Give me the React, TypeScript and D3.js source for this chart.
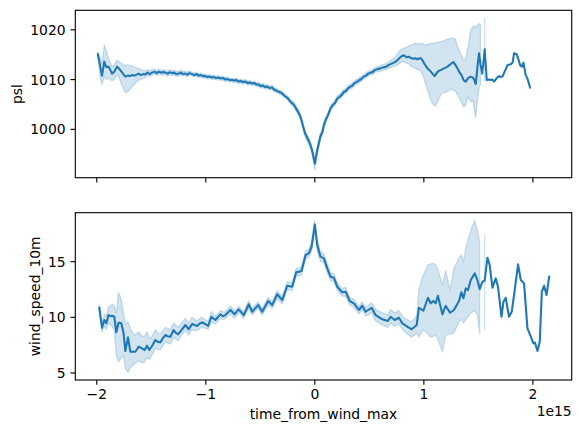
import React from "react";
import * as d3 from "d3";

// ---- data (x in units of 1e15) ----
const pslX = [-1.99,-1.97,-1.952,-1.931,-1.913,-1.892,-1.875,-1.86,-1.839,-1.815,
-1.795,-1.784,-1.76,-1.738,-1.715,-1.695,-1.677,-1.655,-1.635,-1.616,
-1.595,-1.575,-1.555,-1.535,-1.515,-1.493,-1.47,-1.45,-1.43,-1.41,
-1.39,-1.371,-1.35,-1.33,-1.31,-1.29,-1.27,-1.249,-1.23,-1.21,
-1.19,-1.17,-1.15,-1.126,-1.105,-1.085,-1.065,-1.045,-1.025,-1.004,
-0.985,-0.965,-0.945,-0.925,-0.905,-0.882,-0.86,-0.84,-0.82,-0.8,
-0.78,-0.759,-0.74,-0.72,-0.7,-0.68,-0.66,-0.636,-0.615,-0.595,
-0.575,-0.555,-0.535,-0.514,-0.495,-0.475,-0.455,-0.435,-0.415,-0.391,
-0.37,-0.35,-0.33,-0.31,-0.29,-0.27,-0.25,-0.23,-0.21,-0.19,
-0.17,-0.15,-0.13,-0.11,-0.09,-0.07,-0.05,-0.035,-0.02,0,
0.022,0.035,0.05,0.07,0.085,0.1,0.12,0.144,0.165,0.185,
0.206,0.225,0.245,0.266,0.285,0.305,0.328,0.345,0.365,0.389,
0.41,0.43,0.45,0.47,0.49,0.511,0.53,0.55,0.573,0.595,
0.615,0.634,0.655,0.675,0.695,0.715,0.735,0.757,0.775,0.795,
0.818,0.84,0.86,0.879,0.9,0.92,0.94,0.96,0.971,0.99,
1.01,1.032,1.055,1.075,1.099,1.12,1.14,1.154,1.18,1.2,
1.216,1.24,1.255,1.271,1.29,1.305,1.323,1.345,1.365,1.384,
1.405,1.43,1.45,1.465,1.476,1.49,1.506,1.52,1.535,1.548,
1.558,1.577,1.6,1.615,1.629,1.644,1.665,1.69,1.705,1.721,
1.745,1.767,1.797,1.815,1.827,1.852,1.868,1.883,1.9,1.913,
1.934,1.95,1.974];

const pslMean = [1015.1,1012.8,1010.8,1013.6,1012.5,1012.6,1011.9,1011.2,1011.6,1012.6,
1012.2,1011.9,1011.2,1010.6,1010.8,1010.7,1010.9,1010.8,1011.0,1011.2,
1010.9,1011.1,1011.0,1011.4,1011.1,1011.4,1011.6,1011.3,1011.6,1011.4,
1011.5,1011.4,1011.2,1011.5,1011.3,1011.4,1011.1,1011.2,1011.4,1011.1,
1011.2,1011.0,1011.3,1011.1,1010.9,1011.1,1010.8,1010.9,1010.7,1010.7,
1010.5,1010.6,1010.4,1010.5,1010.3,1010.4,1010.2,1010.3,1010.0,1010.1,
1009.9,1009.9,1009.8,1009.9,1009.6,1009.7,1009.5,1009.6,1009.3,1009.4,
1009.2,1009.3,1009.0,1009.0,1008.7,1008.8,1008.5,1008.6,1008.3,1008.4,
1007.9,1007.8,1007.5,1007.4,1007.0,1006.6,1006.3,1005.7,1005.3,1004.9,
1004.1,1003.4,1002.4,1000.8,999.2,998.3,997.4,996.5,995.3,993.1,
995.8,997.0,998.5,999.5,1001.0,1001.9,1002.8,1004.2,1004.9,1005.3,
1006.2,1006.5,1006.9,1007.5,1007.7,1008.3,1008.6,1008.8,1009.3,1009.6,
1009.9,1010.2,1010.6,1010.8,1011.2,1011.4,1011.5,1011.9,1012.1,1012.2,
1012.4,1012.5,1012.6,1012.9,1013.1,1013.3,1013.5,1013.9,1014.3,1014.7,
1014.9,1014.5,1014.6,1014.4,1014.2,1014.3,1014.1,1014.3,1014.3,1013.8,
1013.0,1012.3,1011.8,1011.3,1010.7,1011.4,1011.8,1011.9,1012.2,1012.4,
1012.6,1013.0,1013.3,1013.5,1012.9,1012.4,1011.6,1010.9,1009.9,1009.6,
1010.3,1010.6,1010.4,1009.8,1009.1,1012.2,1015.3,1013.0,1011.2,1013.8,
1016.1,1009.9,1010.0,1009.9,1010.0,1009.6,1010.2,1010.7,1010.5,1010.6,
1011.8,1012.9,1013.1,1013.5,1015.3,1015.1,1014.0,1012.9,1012.6,1013.4,
1010.9,1010.2,1008.4];

const pslLo: (number | null)[] = [1014.6,1010.5,1009.0,1010.6,1010.0,1010.3,1010.0,1009.8,1010.0,1011.0,
1010.4,1009.6,1008.4,1007.3,1007.6,1008.0,1008.6,1009.0,1009.5,1009.9,
1010.0,1010.3,1010.3,1010.8,1010.6,1010.9,1011.1,1010.8,1011.1,1010.9,
1011.0,1010.9,1010.7,1011.0,1010.8,1010.9,1010.6,1010.7,1010.9,1010.7,
1010.8,1010.6,1010.9,1010.7,1010.5,1010.7,1010.4,1010.5,1010.3,1010.3,
1010.1,1010.2,1010.0,1010.1,1009.9,1010.0,1009.8,1009.9,1009.6,1009.7,
1009.5,1009.5,1009.4,1009.5,1009.2,1009.3,1009.1,1009.2,1008.9,1009.0,
1008.8,1008.9,1008.6,1008.6,1008.3,1008.4,1008.1,1008.2,1007.9,1008.0,
1007.5,1007.4,1007.1,1007.0,1006.6,1006.2,1005.9,1005.3,1004.8,1004.4,
1003.6,1002.9,1001.9,1000.2,998.6,997.6,996.7,995.8,994.5,991.8,
995.0,996.3,997.8,998.9,1000.4,1001.3,1002.3,1003.7,1004.4,1004.8,
1005.7,1006.0,1006.4,1007.0,1007.2,1007.8,1008.1,1008.3,1008.8,1009.1,
1009.4,1009.7,1010.1,1010.3,1010.7,1010.9,1011.0,1011.4,1011.6,1011.6,
1011.8,1011.9,1012.0,1012.3,1012.4,1012.6,1012.7,1012.9,1013.2,1013.5,
1013.6,1013.3,1013.2,1012.8,1012.4,1012.3,1012.0,1012.0,1011.8,1011.0,
1009.5,1008.0,1006.5,1005.3,1004.7,1005.2,1006.2,1007.0,1007.3,1007.5,
1007.6,1008.0,1008.0,1007.9,1007.6,1007.0,1006.3,1005.5,1004.5,1004.8,
1006.6,1005.5,1005.8,1003.5,1002.4,1005.5,1008.5,1009.0,null,null,
1009.6];

const pslHi: (number | null)[] = [1015.5,1014.6,1013.2,1017.0,1015.8,1014.2,1013.4,1012.6,1013.0,1013.9,
1013.6,1013.4,1013.0,1012.9,1013.0,1012.8,1012.8,1012.5,1012.4,1012.3,
1011.9,1011.9,1011.8,1012.0,1011.7,1012.0,1012.1,1011.8,1012.1,1011.9,
1012.0,1011.9,1011.7,1012.0,1011.8,1011.9,1011.6,1011.7,1011.9,1011.6,
1011.7,1011.5,1011.7,1011.5,1011.3,1011.5,1011.2,1011.3,1011.1,1011.1,
1010.9,1011.0,1010.8,1010.9,1010.7,1010.8,1010.6,1010.7,1010.4,1010.5,
1010.3,1010.3,1010.2,1010.3,1010.0,1010.1,1009.9,1010.0,1009.7,1009.8,
1009.6,1009.7,1009.4,1009.4,1009.1,1009.2,1008.9,1009.0,1008.7,1008.8,
1008.3,1008.2,1007.9,1007.8,1007.4,1007.0,1006.7,1006.1,1005.8,1005.4,
1004.6,1003.9,1002.9,1001.4,999.8,998.9,998.1,997.2,996.0,994.0,
996.6,997.7,999.2,1000.1,1001.6,1002.5,1003.3,1004.7,1005.4,1005.8,
1006.7,1007.0,1007.4,1008.0,1008.2,1008.8,1009.1,1009.3,1009.8,1010.1,
1010.4,1010.7,1011.1,1011.3,1011.7,1011.9,1012.0,1012.4,1012.6,1012.8,
1013.0,1013.1,1013.2,1013.5,1013.8,1014.1,1014.5,1015.2,1015.7,1016.1,
1016.3,1016.5,1016.7,1016.9,1017.1,1017.3,1017.2,1017.2,1017.3,1017.2,
1017.0,1017.0,1017.2,1017.3,1017.3,1017.5,1017.5,1017.6,1017.8,1018.0,
1018.1,1018.2,1018.3,1018.3,1018.2,1016.8,1016.0,1014.8,1014.0,1014.2,
1016.5,1020.0,1020.6,1020.8,1020.5,1020.9,1021.3,1021.0,null,null,
1022.4];

const windX = [-1.977,-1.952,-1.931,-1.913,-1.892,-1.875,-1.86,-1.839,-1.821,-1.8,
-1.775,-1.754,-1.738,-1.714,-1.692,-1.67,-1.646,-1.616,-1.585,-1.561,
-1.539,-1.518,-1.493,-1.463,-1.44,-1.417,-1.395,-1.371,-1.35,-1.325,
-1.295,-1.275,-1.254,-1.22,-1.187,-1.157,-1.126,-1.1,-1.08,-1.055,
-1.034,-1.005,-0.979,-0.949,-0.93,-0.912,-0.866,-0.845,-0.82,-0.774,
-0.737,-0.698,-0.652,-0.606,-0.575,-0.52,-0.483,-0.428,-0.391,-0.345,
-0.299,-0.253,-0.208,-0.171,-0.122,-0.085,-0.055,-0.03,0,0.022,
0.052,0.083,0.114,0.144,0.174,0.206,0.251,0.282,0.321,0.358,
0.404,0.435,0.466,0.521,0.557,0.619,0.67,0.695,0.732,0.771,
0.803,0.848,0.888,0.934,0.955,0.995,1.038,1.062,1.087,1.108,
1.129,1.17,1.2,1.24,1.276,1.322,1.344,1.363,1.384,1.405,
1.43,1.467,1.491,1.512,1.537,1.558,1.583,1.604,1.629,1.659,
1.68,1.712,1.73,1.751,1.781,1.806,1.827,1.864,1.889,1.919,
1.95,1.981,2.005,2.02,2.042,2.063,2.082,2.103,2.125,2.149];

const windMean = [10.86,9.07,9.76,9.46,10.2,10.1,10.14,10.05,8.65,9.52,
9.46,8.56,6.97,8.2,6.91,6.9,6.91,7.36,7.21,7.06,
7.45,7.06,7.42,7.96,7.8,7.75,8.1,8.41,8.3,8.26,
8.86,8.6,8.47,8.9,9.31,8.92,9.4,9.3,9.22,9.45,
9.55,9.4,9.22,10.05,9.9,9.76,10.27,10.1,10.2,10.66,
10.27,10.72,10.2,11.17,10.5,11.1,10.5,11.46,11.1,12.07,
11.55,12.84,12.75,14.04,14.16,15.6,15.75,16.34,18.35,16.5,
15.45,15.3,14.4,13.65,13.56,12.75,12.25,12.3,11.46,11.26,
10.66,11.04,10.5,10.86,10.2,9.82,9.67,10.05,9.76,9.96,
9.46,9.16,8.92,9.31,10.86,10.59,11.76,11.26,11.46,11.26,
11.94,10.27,11.04,10.41,10.66,11.46,12.25,11.71,12.6,12.45,
13.35,13.95,13.35,12.54,13.2,13.29,15.36,14.7,12.66,13.5,
12.75,10.05,11.4,11.76,10.05,10.5,12.0,14.76,13.35,13.05,
9.01,8.26,7.66,7.72,6.97,7.81,12.3,12.84,12.0,13.65];

const windLo: (number | null)[] = [10.5,8.7,9.2,8.9,9.5,9.3,9.2,8.8,6.6,6.0,
6.4,6.6,5.4,5.05,5.5,5.7,5.9,6.1,5.9,6.0,
6.4,6.2,6.6,7.2,7.1,7.1,7.4,7.8,7.7,7.6,
8.2,8.0,7.9,8.4,8.8,8.4,8.9,8.8,8.8,9.0,
9.1,9.0,8.9,9.6,9.5,9.4,9.9,9.8,9.9,10.3,
9.9,10.4,9.9,10.8,10.2,10.8,10.2,11.1,10.8,11.7,
11.2,12.5,12.4,13.7,13.8,15.2,15.4,15.9,17.8,16.0,
15.0,14.9,14.0,13.3,13.2,12.4,11.9,11.9,11.1,10.9,
10.3,10.7,10.1,10.4,9.7,9.3,9.1,9.5,9.2,9.4,
8.9,8.5,8.2,8.6,8.2,8.9,8.5,8.2,8.3,8.4,
8.0,6.9,8.4,8.5,8.6,9.6,9.8,9.5,9.8,10.0,
10.4,10.6,10.2,8.5,null,8.9];

const windHi: (number | null)[] = [11.2,9.5,10.3,10.1,10.9,11.0,11.2,11.0,10.4,12.25,
11.6,10.3,9.4,9.6,9.0,8.6,8.4,8.7,8.3,8.3,
8.7,8.1,8.3,8.9,8.6,8.5,8.8,9.1,9.0,8.9,
9.5,9.3,9.1,9.5,9.9,9.5,10.0,9.8,9.7,9.9,
10.0,9.8,9.6,10.5,10.3,10.1,10.6,10.5,10.5,11.0,
10.6,11.0,10.5,11.5,10.8,11.4,10.8,11.8,11.4,12.4,
11.9,13.2,13.1,14.4,14.5,16.0,16.1,16.8,18.7,17.0,
15.9,15.7,14.8,14.0,13.9,13.1,12.6,12.7,11.8,11.6,
11.0,11.4,10.9,11.3,10.7,10.4,10.2,10.7,10.4,10.6,
10.1,9.8,9.6,10.1,12.6,13.8,14.7,14.8,14.85,14.7,
14.3,12.9,14.2,12.4,14.4,15.3,15.6,15.0,16.2,17.0,
17.8,18.72,17.8,16.7,null,17.4];

const xTicks = [-2, -1, 0, 1, 2];
const pslTicks = [1000, 1010, 1020];
const windTicks = [5, 10, 15];

// ---- layout ----
const W = 580, H = 433;
const L = 75.3, R = 571.7;
const P1 = { top: 10.3, bottom: 177.7 };
const P2 = { top: 212.7, bottom: 380 };
const COLOR = "#1f77b4";
const FONT = "DejaVu Sans, sans-serif";
const FS = 13.9;
const TL = 4.86;
const SW = 1.11;

function pad(ext: [number, number]): [number, number] {
  const r = ext[1] - ext[0];
  return [ext[0] - 0.05 * r, ext[1] + 0.05 * r];
}
function ext(...arrs: (number | null)[][]): [number, number] {
  const v: number[] = [];
  arrs.forEach(a => a.forEach(d => { if (d != null) v.push(d); }));
  return [d3.min(v)!, d3.max(v)!];
}
const fmtMinus = (v: number) => (v < 0 ? "\u2212" + Math.abs(v) : String(v));

function Panel({ X, M, lo, hi, yTicks, label, labelX, top, bottom, showX, x }: any) {
  const y = d3.scaleLinear().domain(pad(ext(M, lo, hi))).range([bottom, top]);
  const idx = d3.range(X.length);
  const bidx = d3.range(lo.length);
  const line = d3.line<number>().x(i => x(X[i])).y(i => y(M[i]));
  const area = d3.area<number>()
    .defined(i => lo[i] != null && hi[i] != null)
    .x(i => x(X[i])).y0(i => y(lo[i])).y1(i => y(hi[i]));
  const cy = (top + bottom) / 2;
  return (
    <g>
      <path d={area(bidx) || ""} fill={COLOR} fillOpacity={0.2} stroke={COLOR} strokeOpacity={0.2} strokeWidth={1.39} strokeLinejoin="round" />
      <path d={line(idx) || ""} fill="none" stroke={COLOR} strokeWidth={2.08} strokeLinejoin="round" strokeLinecap="square" />
      <rect x={L} y={top} width={R - L} height={bottom - top} fill="none" stroke="#000" strokeWidth={SW} />
      {yTicks.map((t: number) => (
        <g key={t}>
          <line x1={L - TL} x2={L} y1={y(t)} y2={y(t)} stroke="#000" strokeWidth={SW} />
          <text x={L - TL - 4.86} y={y(t) + 5} textAnchor="end" fontFamily={FONT} fontSize={FS} fill="#000">{t}</text>
        </g>
      ))}
      {xTicks.map(t => (
        <g key={t}>
          <line x1={x(t)} x2={x(t)} y1={bottom} y2={bottom + TL} stroke="#000" strokeWidth={SW} />
          {showX && (
            <text x={x(t)} y={bottom + 19} textAnchor="middle" fontFamily={FONT} fontSize={FS} fill="#000">{fmtMinus(t)}</text>
          )}
        </g>
      ))}
      <text transform={`translate(${labelX},${cy}) rotate(-90)`} textAnchor="middle" fontFamily={FONT} fontSize={FS} fill="#000">{label}</text>
    </g>
  );
}

export default function App() {
  const x = d3.scaleLinear().domain(pad(ext(pslX, windX))).range([L, R]);
  return (
    <div style={{ position: "fixed", left: 0, top: 0 }}>
      <svg width={W} height={H} style={{ display: "block", background: "#fff" }}>
        <rect x={0} y={0} width={W} height={H} fill="#fff" />
        <Panel X={pslX} M={pslMean} lo={pslLo} hi={pslHi} yTicks={pslTicks} label="psl" labelX={21.5} top={P1.top} bottom={P1.bottom} showX={false} x={x} />
        <Panel X={windX} M={windMean} lo={windLo} hi={windHi} yTicks={windTicks} label="wind_speed_10m" labelX={39.5} top={P2.top} bottom={P2.bottom} showX={true} x={x} />
        <text x={(L + R) / 2} y={419} textAnchor="middle" fontFamily={FONT} fontSize={FS} fill="#000">time_from_wind_max</text>
        <text x={R} y={416} textAnchor="end" fontFamily={FONT} fontSize={FS} fill="#000">1e15</text>
      </svg>
    </div>
  );
}
